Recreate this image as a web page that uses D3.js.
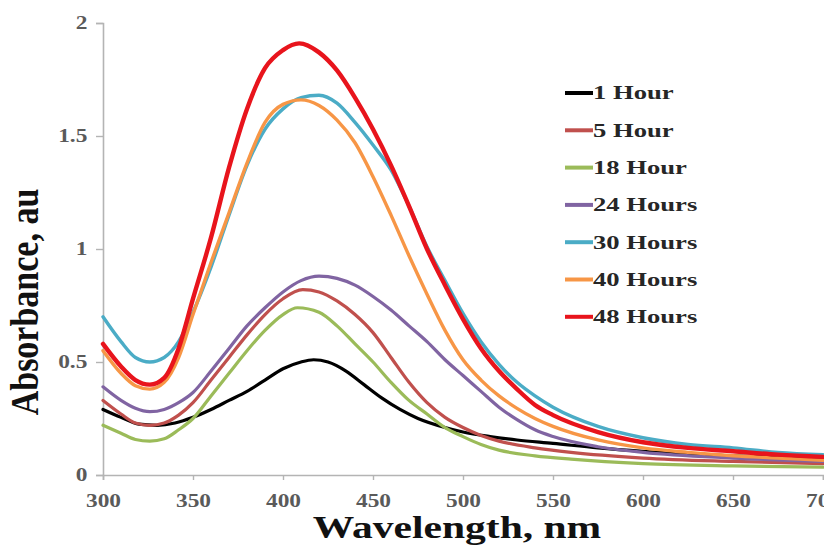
<!DOCTYPE html>
<html>
<head>
<meta charset="utf-8">
<script src="https://cdn.jsdelivr.net/npm/d3@7"></script>
<style>
  html, body { margin: 0; padding: 0; background: #fff; }
  svg { display: block; }
  text { font-family: "Liberation Serif", "Times New Roman", serif; font-weight: bold; }
</style>
</head>
<body>
<svg id="chart" width="824" height="546"></svg>
<script>
// UV-Vis absorbance spectra recorded at successive reaction times
const seriesNames = ["1 Hour", "5 Hour", "18 Hour", "24 Hours", "30 Hours", "40 Hours", "48 Hours"];
const seriesColors = ["#000000", "#c0504d", "#9bbb59", "#8064a2", "#4bacc6", "#f79646", "#e8141c"];
const seriesWidths = [3.2, 3.2, 3.2, 3.2, 3.4, 3.4, 4.4];

const xTicks = [300, 350, 400, 450, 500, 550, 600, 650, 700];
const yTicks = [0, 0.5, 1, 1.5, 2];

// [wavelength nm, absorbance]
const hour1 = [[300,0.29],[310,0.255],[320,0.225],[330,0.22],[340,0.23],[350,0.255],[360,0.29],[370,0.33],[380,0.37],[390,0.42],[400,0.47],[410,0.50],[417,0.51],[425,0.50],[435,0.46],[445,0.40],[455,0.34],[465,0.29],[475,0.25],[490,0.21],[500,0.19],[515,0.17],[530,0.155],[550,0.14],[575,0.12],[600,0.105],[650,0.085],[700,0.07]];
const hour5 = [[300,0.33],[310,0.27],[318,0.23],[326,0.22],[334,0.23],[342,0.265],[350,0.32],[360,0.42],[370,0.52],[380,0.62],[390,0.71],[400,0.78],[411,0.82],[420,0.81],[430,0.77],[440,0.71],[450,0.63],[460,0.52],[470,0.41],[480,0.32],[490,0.255],[500,0.21],[510,0.175],[520,0.15],[540,0.12],[560,0.10],[600,0.075],[650,0.06],[700,0.05]];
const hour18 = [[300,0.22],[310,0.185],[318,0.157],[326,0.15],[334,0.16],[342,0.2],[350,0.25],[360,0.35],[370,0.45],[380,0.55],[390,0.64],[400,0.71],[408,0.74],[420,0.72],[430,0.66],[440,0.58],[450,0.50],[460,0.41],[470,0.33],[480,0.27],[490,0.21],[500,0.17],[510,0.135],[520,0.11],[540,0.085],[560,0.07],[600,0.05],[650,0.04],[700,0.035]];
const hour24 = [[300,0.39],[310,0.33],[318,0.295],[326,0.28],[334,0.29],[342,0.32],[350,0.365],[360,0.46],[370,0.56],[380,0.66],[390,0.74],[400,0.81],[410,0.86],[420,0.88],[430,0.87],[440,0.84],[450,0.79],[460,0.73],[470,0.66],[480,0.59],[490,0.51],[500,0.44],[510,0.37],[520,0.30],[530,0.245],[540,0.20],[550,0.17],[575,0.125],[600,0.10],[650,0.075],[700,0.06]];
const hour30 = [[300,0.70],[310,0.59],[318,0.52],[326,0.50],[334,0.52],[342,0.59],[350,0.72],[360,0.92],[370,1.15],[380,1.37],[390,1.53],[400,1.62],[410,1.67],[420,1.68],[430,1.645],[440,1.56],[450,1.46],[460,1.35],[470,1.19],[480,1.01],[490,0.86],[500,0.715],[510,0.59],[520,0.49],[530,0.41],[540,0.35],[550,0.30],[575,0.215],[600,0.165],[625,0.135],[650,0.12],[675,0.10],[700,0.09]];
const hour40 = [[300,0.55],[310,0.45],[318,0.395],[326,0.38],[334,0.41],[342,0.52],[350,0.71],[360,0.94],[370,1.16],[380,1.38],[390,1.56],[400,1.64],[410,1.66],[420,1.635],[430,1.57],[440,1.47],[450,1.32],[460,1.15],[470,0.97],[480,0.80],[490,0.64],[500,0.51],[510,0.42],[520,0.35],[530,0.295],[540,0.25],[550,0.215],[575,0.155],[600,0.12],[625,0.10],[650,0.085],[675,0.075],[700,0.065]];
const hour48 = [[300,0.58],[310,0.48],[318,0.42],[326,0.40],[334,0.43],[342,0.56],[350,0.78],[360,1.05],[370,1.36],[380,1.62],[390,1.80],[400,1.88],[409,1.91],[420,1.87],[430,1.79],[440,1.67],[450,1.53],[460,1.37],[470,1.19],[480,1.00],[490,0.84],[500,0.69],[510,0.56],[520,0.46],[530,0.38],[540,0.31],[550,0.265],[575,0.19],[600,0.145],[625,0.12],[650,0.105],[675,0.09],[700,0.08]];

const seriesData = [hour1, hour5, hour18, hour24, hour30, hour40, hour48];

const margin = { left: 103, right: 1, top: 23, bottom: 71 };
const width = 824, height = 546;

const svg = d3.select("#chart");

const x = d3.scaleLinear().domain([300, 700]).range([margin.left, width - margin.right]);
const y = d3.scaleLinear().domain([0, 2]).range([height - margin.bottom, margin.top]);

// axes
const xAxis = svg.append("g")
  .attr("transform", `translate(0,${y(0)})`)
  .call(d3.axisBottom(x).tickValues(xTicks).tickSize(5).tickPadding(14).tickFormat(d3.format("d")));
const yAxis = svg.append("g")
  .attr("transform", `translate(${x(300)},0)`)
  .call(d3.axisLeft(y).tickValues(yTicks).tickSize(7).tickPadding(9).tickFormat(d => String(d)));

[xAxis, yAxis].forEach(g => {
  g.select(".domain").attr("stroke", "#b4b4b4").attr("stroke-width", 1.6);
  g.selectAll(".tick line").attr("stroke", "#b4b4b4").attr("stroke-width", 1.4);
  g.selectAll(".tick text")
    .attr("fill", "#5a5a5a")
    .style("font-size", "18px");
});
xAxis.selectAll(".tick text").attr("transform", "scale(1.3,1)");
yAxis.selectAll(".tick text").attr("transform", "scale(1.3,1)").attr("x", -12);

// spectra
const line = d3.line()
  .x(d => x(d[0]))
  .y(d => y(d[1]))
  .curve(d3.curveMonotoneX);

const plot = svg.append("g");
seriesData.forEach((data, i) => {
  plot.append("path")
    .datum(data)
    .attr("fill", "none")
    .attr("stroke", seriesColors[i])
    .attr("stroke-width", seriesWidths[i])
    .attr("stroke-linejoin", "round")
    .attr("stroke-linecap", "round")
    .attr("d", line);
});

// legend
const legend = svg.append("g").attr("transform", "translate(565,93)");
seriesNames.forEach((name, i) => {
  const row = legend.append("g").attr("transform", `translate(0,${i * 37.3})`);
  row.append("line")
    .attr("x1", 0).attr("x2", 28).attr("y1", 0).attr("y2", 0)
    .attr("stroke", seriesColors[i]).attr("stroke-width", 4);
  row.append("text")
    .attr("transform", "translate(28,0) scale(1.48,1)")
    .attr("dy", "0.35em")
    .attr("fill", "#262626")
    .style("font-size", "18px")
    .text(name);
});

// axis titles
svg.append("text")
  .attr("transform", `translate(${(x(300) + x(700)) / 2 - 6},538) scale(1.34,1)`)
  .attr("text-anchor", "middle")
  .attr("fill", "#111")
  .style("font-size", "31px")
  .text("Wavelength, nm");

svg.append("text")
  .attr("transform", "translate(38,302) scale(1.15,1) rotate(-90)")
  .attr("text-anchor", "middle")
  .attr("fill", "#111")
  .style("font-size", "34px")
  .text("Absorbance, au");
</script>
</body>
</html>
